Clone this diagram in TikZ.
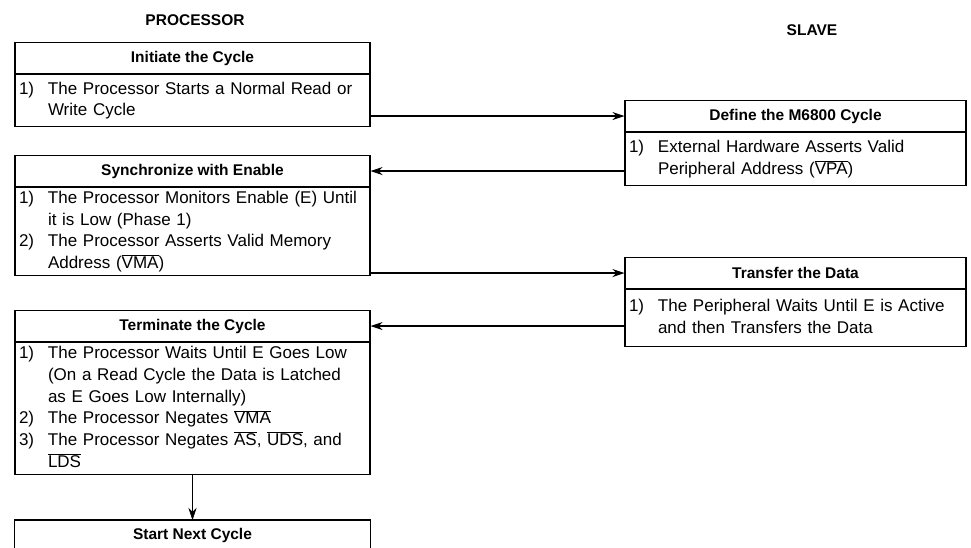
\documentclass[tikz,border=0pt]{standalone}
\usepackage{fontspec}
\setmainfont{Liberation Sans}
\usetikzlibrary{positioning,arrows.meta}
\newcommand{\bodyfont}{\fontsize{17}{21.7}\selectfont}
\newcommand{\headfont}{\fontsize{15.5}{18}\selectfont\bfseries}
\newcommand{\ovl}[1]{$\overline{\mbox{#1}}$}
\tikzset{
    headbox/.style={draw, line width=1.1pt, minimum height=31pt, inner sep=0pt, font=\headfont},
    bodybox/.style={draw, line width=1.1pt, inner xsep=4pt, inner ysep=0pt, align=left, font=\bodyfont},
    lbox/.style={minimum width=355pt, text width=347pt},
    rbox/.style={minimum width=341pt, text width=333pt},
    flow/.style={line width=1.2pt, -{Stealth[length=12pt,width=8pt]}},
}
\begin{document}
\begin{tikzpicture}[x=1pt, y=1pt]
    \useasboundingbox (0,0) rectangle (971,-547);
    % Titles
    \node[font=\headfont] (proc) at (195,-20) {PROCESSOR};
    \node[font=\headfont] (slave) at (812,-30) {SLAVE};
    % Processor
    \node[headbox, minimum width=355pt, anchor=north] (inithead) at (192.5,-42) {Initiate the Cycle};
    \node[bodybox, lbox, minimum height=52pt, below=0pt of inithead] (initbody) {%
        \begin{tabular}{@{}p{29pt}@{}l@{}}
        1) & The Processor Starts a Normal Read or\\
           & Write Cycle
        \end{tabular}};
    \node[headbox, minimum width=355pt, anchor=north] (synchead) at (192.5,-155) {Synchronize with Enable};
    \node[bodybox, lbox, minimum height=88pt, below=0pt of synchead] (syncbody) {%
        \begin{tabular}{@{}p{29pt}@{}l@{}}
        1) & The Processor Monitors Enable (E) Until\\
           & it is Low (Phase 1)\\
        2) & The Processor Asserts Valid Memory\\
           & Address (\ovl{VMA})
        \end{tabular}};
    \node[headbox, minimum width=355pt, anchor=north] (termhead) at (192.5,-310) {Terminate the Cycle};
    \node[bodybox, lbox, minimum height=132pt, below=0pt of termhead] (termbody) {%
        \begin{tabular}{@{}p{29pt}@{}l@{}}
        1) & The Processor Waits Until E Goes Low\\
           & (On a Read Cycle the Data is Latched\\
           & as E Goes Low Internally)\\
        2) & The Processor Negates \ovl{VMA}\\
        3) & The Processor Negates \ovl{AS}, \ovl{UDS}, and\\
           & \ovl{LDS}
        \end{tabular}};
    % last box runs off the bottom edge
    \node[headbox, draw=none, minimum width=355pt, minimum height=30pt, anchor=north] (starthead) at (192.5,-520) {Start Next Cycle};
    \draw[line width=1.1pt] (starthead.south west) -- (starthead.north west)
        -- (starthead.north east) -- (starthead.south east);
    % Slave
    \node[headbox, minimum width=341pt, anchor=north] (defhead) at (795.5,-100) {Define the M6800 Cycle};
    \node[bodybox, rbox, minimum height=53pt, below=0pt of defhead] (defbody) {%
        \begin{tabular}{@{}p{29pt}@{}l@{}}
        1) & External Hardware Asserts Valid\\
           & Peripheral Address (\ovl{VPA})
        \end{tabular}};
    \node[headbox, minimum width=341pt, anchor=north] (xferhead) at (795.5,-257) {Transfer the Data};
    \node[bodybox, rbox, minimum height=57pt, below=0pt of xferhead] (xferbody) {%
        \begin{tabular}{@{}p{29pt}@{}l@{}}
        1) & The Peripheral Waits Until E is Active\\
           & and then Transfers the Data
        \end{tabular}};
    % Handshake
    \draw[flow] (defhead.west -| initbody.east) -- (defhead.west);
    \draw[flow] (synchead.east -| defbody.west) -- (synchead.east);
    \draw[flow] (xferhead.west -| syncbody.east) -- (xferhead.west);
    \draw[flow] (termhead.east -| xferbody.west) -- (termhead.east);
    \draw[line width=0.6pt, -{Stealth[length=12pt,width=8pt]}] (termbody.south) -- (starthead.north);
\end{tikzpicture}
\end{document}
